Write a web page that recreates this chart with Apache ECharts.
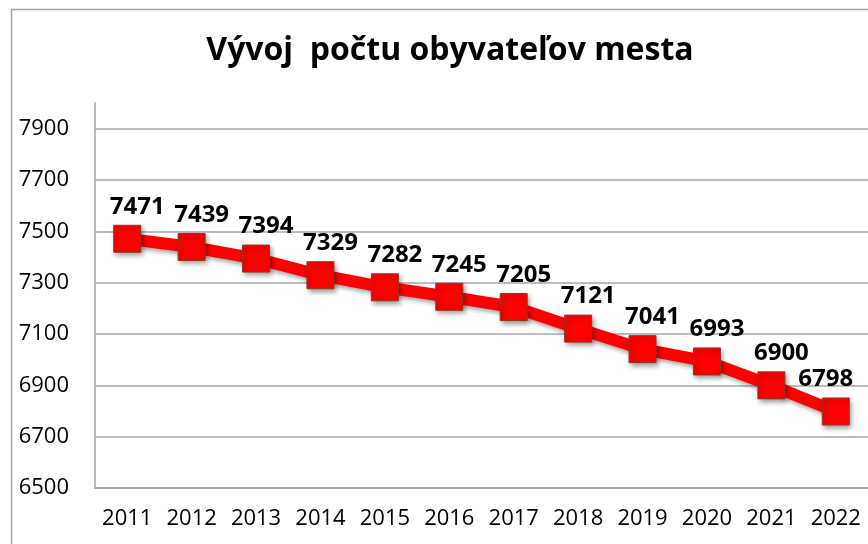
<!DOCTYPE html>
<html style="height: 100%">
<head>
    <meta charset="utf-8">
</head>
<body style="height: 100%; margin: 0; background: #fff">
    <div id="container" style="width: 868px; height: 544px"></div>
    <script src="https://cdn.jsdelivr.net/npm/echarts@6.0.0/dist/echarts.min.js"></script>
    <script>
        const years = ['2011', '2012', '2013', '2014', '2015', '2016', '2017', '2018', '2019', '2020', '2021', '2022'];
        const population = [7471, 7439, 7394, 7329, 7282, 7245, 7205, 7121, 7041, 6993, 6900, 6798];
        const titleText = 'Vývoj  počtu obyvateľov mesta';
        const yMin = 6500;
        const yMax = 8000;
        const yStep = 200;

        const font = 'Open Sans';
        const gray = '#a6a6a6';

        const myChart = echarts.init(document.getElementById('container'));

        const option = {
            animation: false,
            graphic: [{
                type: 'rect',
                shape: { x: 11.5, y: 9.5, width: 900, height: 600 },
                style: { fill: 'none', stroke: gray, lineWidth: 1.5 },
                silent: true
            }],
            title: {
                text: titleText,
                left: 445,
                top: 30,
                textAlign: 'center',
                textStyle: {
                    fontFamily: font,
                    fontSize: 32,
                    fontWeight: 'bold',
                    color: '#000'
                }
            },
            grid: {
                left: 95,
                top: 103,
                width: 778,
                height: 385
            },
            xAxis: {
                type: 'category',
                data: years,
                axisLine: { show: true, lineStyle: { color: gray, width: 1.5 } },
                axisTick: { show: false },
                axisLabel: {
                    interval: 0,
                    color: '#000',
                    fontFamily: font,
                    fontSize: 22,
                    margin: 20
                }
            },
            yAxis: {
                type: 'value',
                min: yMin,
                max: yMax,
                interval: yStep,
                axisLine: { show: true, lineStyle: { color: gray, width: 1.5 } },
                axisTick: { show: false },
                splitLine: {
                    show: true,
                    showMaxLine: false,
                    lineStyle: { color: gray, width: 1.5 }
                },
                axisLabel: {
                    showMaxLabel: false,
                    formatter: v => String(v),
                    color: '#000',
                    fontFamily: font,
                    fontSize: 22,
                    margin: 26
                }
            },
            series: [{
                type: 'line',
                data: population.map((v, i) => ({
                    value: v,
                    label: { offset: i === population.length - 1 ? [-10, 0] : [10, 0] }
                })),
                symbol: 'rect',
                symbolSize: 27,
                lineStyle: {
                    color: '#ff0000',
                    width: 12,
                    shadowColor: 'rgba(0,0,0,0.35)',
                    shadowBlur: 4,
                    shadowOffsetX: 2,
                    shadowOffsetY: 3
                },
                itemStyle: {
                    color: '#ff0000',
                    borderColor: '#8a3a1e',
                    borderWidth: 1,
                    opacity: 1,
                    shadowColor: 'rgba(0,0,0,0.4)',
                    shadowBlur: 5,
                    shadowOffsetX: 2,
                    shadowOffsetY: 3
                },
                label: {
                    show: true,
                    position: 'top',
                    distance: 6,
                    color: '#000',
                    fontFamily: font,
                    fontSize: 24,
                    fontWeight: 'bold'
                }
            }]
        };

        myChart.setOption(option);
    </script>
</body>
</html>
